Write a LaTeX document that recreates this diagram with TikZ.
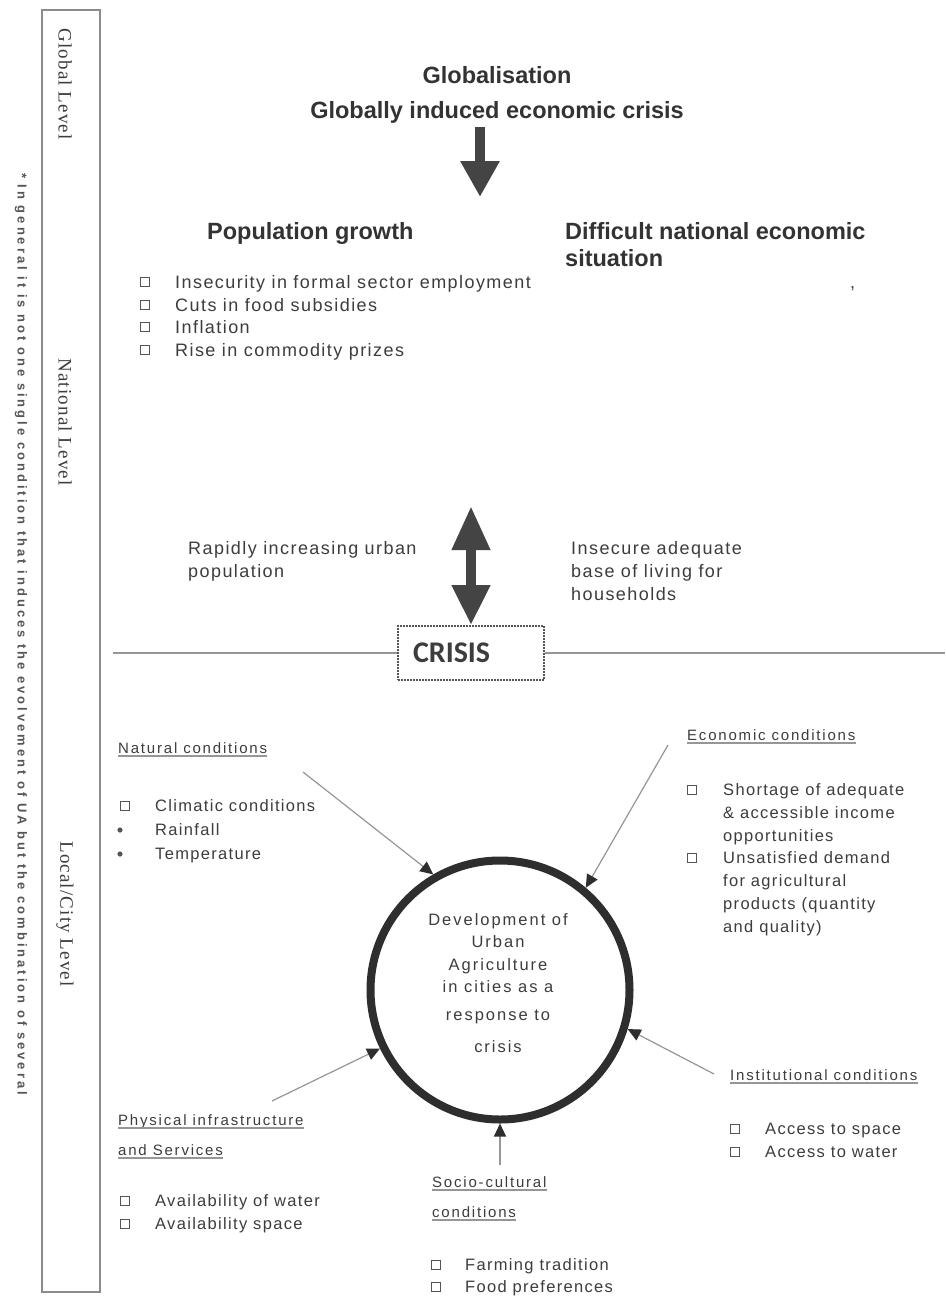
\documentclass[tikz,border=0pt]{standalone}
\usepackage{fontspec}
\setmainfont{Liberation Sans}
\usetikzlibrary{arrows.meta}
\newfontfamily\fA[LetterSpace=8]{Liberation Sans}
\newfontfamily\fB[LetterSpace=8]{Liberation Sans}
\newfontfamily\fC[LetterSpace=12]{Liberation Sans}
\newfontfamily\fD[LetterSpace=12]{Liberation Sans}
\newfontfamily\fFoot[LetterSpace=23]{Liberation Sans}
\newfontfamily\fSerif[LetterSpace=6]{Liberation Serif}
\newfontfamily\fCrisis{Carlito}
\definecolor{txt}{HTML}{3D3D3D}
\definecolor{ttl}{HTML}{333333}
\definecolor{arr}{HTML}{444444}
\definecolor{ring}{HTML}{2E2E2E}
\definecolor{lin}{HTML}{969696}
\definecolor{bul}{HTML}{555555}
\definecolor{frame}{HTML}{8C8C8C}
\tikzset{
  title/.style={anchor=base, inner sep=0pt, text=ttl, font=\bfseries\fontsize{23.5}{28}\selectfont},
  titlew/.style={title, anchor=base west},
  itemA/.style={anchor=base west, inner sep=0pt, text=txt, font=\fA\fontsize{18}{21}\selectfont},
  itemB/.style={anchor=base west, inner sep=0pt, text=txt, font=\fB\fontsize{16.5}{19}\selectfont},
  lbl/.style={anchor=base west, inner sep=0pt, text=txt, font=\fD\fontsize{15}{18}\selectfont},
  ctext/.style={anchor=base, inner sep=0pt, text=txt, font=\fC\fontsize{16.5}{19}\selectfont},
  level/.style={rotate=-90, inner sep=0pt, text=txt, font=\fSerif\fontsize{19}{22}\selectfont},
  ul/.style={draw=lin, line width=1.2pt},
  bulsq/.style={draw=bul, line width=1.5pt},
  bigarrow/.style={draw=arr, line width=10pt},
  conn/.style={draw=lin, line width=1.2pt, -{Triangle[length=13pt,width=12pt,color=ring]}},
}
\begin{document}
\begin{tikzpicture}[x=1pt, y=-1pt]
\useasboundingbox (0,0) rectangle (945,1298);
\fill[white] (0,0) rectangle (945,1298);

% left frame and level labels
\node[draw=frame, line width=1.2pt, minimum width=58pt, minimum height=1282pt, inner sep=0pt] (levels) at (71,651) {};
\node[level] (glob) at (65,84) {Global Level};
\node[level] (nat) at (65,422) {National Level};
\node[level] (loc) at (65,914) {Local/City Level};
\node[rotate=-90, inner sep=0pt, text=bul, font=\fFoot\bfseries\fontsize{13}{15}\selectfont] (fn) at (21,634)
  {* In general it is not one single condition that induces the evolvement of UA but the combination of several};

% global level
\node[title] (globa) at (497,83) {Globalisation};
\node[title] (gcrisis) at (497,118) {Globally induced economic crisis};
\coordinate (g1) at (480,127);
\coordinate (g2) at (480,197);
\draw[bigarrow, -{Triangle[length=36pt,width=37pt,color=arr]}] (g1) -- (g2);

% national level
\node[titlew] (pop) at (207,239) {Population growth};
\node[titlew] (diff1) at (565,239) {Difficult national economic};
\node[titlew] (diff2) at (565,266) {situation};
\foreach \yy in {282,305,327,350} \draw[bulsq] (145-4.5,\yy-4.5) rectangle (145+4.5,\yy+4.5);
\node[itemA] (p1) at (175,288) {Insecurity in formal sector employment};
\node[itemA] (p2) at (175,311) {Cuts in food subsidies};
\node[itemA] (p3) at (175,333) {Inflation};
\node[itemA] (p4) at (175,356) {Rise in commodity prizes};
\node[itemA] (comma) at (850,288) {,};

\node[itemA] (r1) at (188,554) {Rapidly increasing urban};
\node[itemA] (r2) at (188,577) {population};
\node[itemA] (s1) at (571,554) {Insecure adequate};
\node[itemA] (s2) at (571,577) {base of living for};
\node[itemA] (s3) at (571,600) {households};

% crisis
\node[draw=bul, line width=1.6pt, dash pattern=on 2pt off 1pt, minimum height=54pt, text width=116pt, inner xsep=15pt, inner ysep=0pt, align=left, text=txt, font=\fCrisis\bfseries\fontsize{30}{34}\selectfont] (crisis) at (471,653) {CRISIS};
\coordinate (hl) at (113,653);
\coordinate (hr) at (945,653);
\draw[draw=lin, line width=2pt] (hl) -- (crisis.west);
\draw[draw=lin, line width=2pt] (crisis.east) -- (hr);
\coordinate (dtop) at (471,506);
\draw[bigarrow, {Triangle[length=44pt,width=36pt,color=arr]}-{Triangle[length=40pt,width=36pt,color=arr]}] (dtop) -- (crisis.north);

% circle
\node[circle, draw=ring, line width=8pt, minimum size=259pt, inner sep=0pt] (circ) at (500,990) {};
\node[ctext] (c1) at (498,925) {Development of};
\node[ctext] (c2) at (498,947) {Urban};
\node[ctext] (c3) at (498,970) {Agriculture};
\node[ctext] (c4) at (498,992) {in cities as a};
\node[ctext] (c5) at (498,1020) {response to};
\node[ctext] (c6) at (498,1052) {crisis};

% natural conditions
\node[lbl] (natl) at (118,753) {Natural conditions};
\draw[ul] ([yshift=-3pt]natl.base west) -- ([yshift=-3pt]natl.base east);
\draw[bulsq] (125-4.5,806-4.5) rectangle (125+4.5,806+4.5);
\fill[bul] (120,830) circle (2.6pt);
\fill[bul] (120,854) circle (2.6pt);
\node[itemB] (n1) at (155,811) {Climatic conditions};
\node[itemB] (n2) at (155,835) {Rainfall};
\node[itemB] (n3) at (155,859) {Temperature};
\coordinate (natS) at (303,772);
\draw[conn] (natS) -- (circ.120.9);

% economic conditions
\node[lbl] (ecol) at (687,740) {Economic conditions};
\draw[ul] ([yshift=-3pt]ecol.base west) -- ([yshift=-3pt]ecol.base east);
\foreach \yy in {790,858} \draw[bulsq] (692-4.5,\yy-4.5) rectangle (692+4.5,\yy+4.5);
\node[itemB] (e1) at (723,795) {Shortage of adequate};
\node[itemB] (e2) at (723,818) {\& accessible income};
\node[itemB] (e3) at (723,841) {opportunities};
\node[itemB] (e4) at (723,863) {Unsatisfied demand};
\node[itemB] (e5) at (723,886) {for agricultural};
\node[itemB] (e6) at (723,909) {products (quantity};
\node[itemB] (e7) at (723,932) {and quality)};
\coordinate (ecoS) at (668,745);
\draw[conn] (ecoS) -- (circ.50.6);

% institutional conditions
\node[lbl] (insl) at (730,1080) {Institutional conditions};
\draw[ul] ([yshift=-3pt]insl.base west) -- ([yshift=-3pt]insl.base east);
\foreach \yy in {1129,1152} \draw[bulsq] (735-4.5,\yy-4.5) rectangle (735+4.5,\yy+4.5);
\node[itemB] (i1) at (765,1134) {Access to space};
\node[itemB] (i2) at (765,1157) {Access to water};
\coordinate (insS) at (714,1074);
\draw[conn] (insS) -- (circ.-17.9);

% physical infrastructure
\node[lbl] (phy1) at (118,1125) {Physical infrastructure};
\draw[ul] ([yshift=-3pt]phy1.base west) -- ([yshift=-3pt]phy1.base east);
\node[lbl] (phy2) at (118,1155) {and Services};
\draw[ul] ([yshift=-3pt]phy2.base west) -- ([yshift=-3pt]phy2.base east);
\foreach \yy in {1201,1224} \draw[bulsq] (125-4.5,\yy-4.5) rectangle (125+4.5,\yy+4.5);
\node[itemB] (f1) at (155,1206) {Availability of water};
\node[itemB] (f2) at (155,1229) {Availability space};
\coordinate (phyS) at (272,1101);
\draw[conn] (phyS) -- (circ.-154.8);

% socio-cultural
\node[lbl] (soc1) at (432,1187) {Socio-cultural};
\draw[ul] ([yshift=-3pt]soc1.base west) -- ([yshift=-3pt]soc1.base east);
\node[lbl] (soc2) at (432,1217) {conditions};
\draw[ul] ([yshift=-3pt]soc2.base west) -- ([yshift=-3pt]soc2.base east);
\foreach \yy in {1265,1287} \draw[bulsq] (436-4.5,\yy-4.5) rectangle (436+4.5,\yy+4.5);
\node[itemB] (so1) at (465,1270) {Farming tradition};
\node[itemB] (so2) at (465,1292) {Food preferences};
\coordinate (socS) at (500,1165);
\draw[conn] (socS) -- (circ.-90);
\end{tikzpicture}
\end{document}
